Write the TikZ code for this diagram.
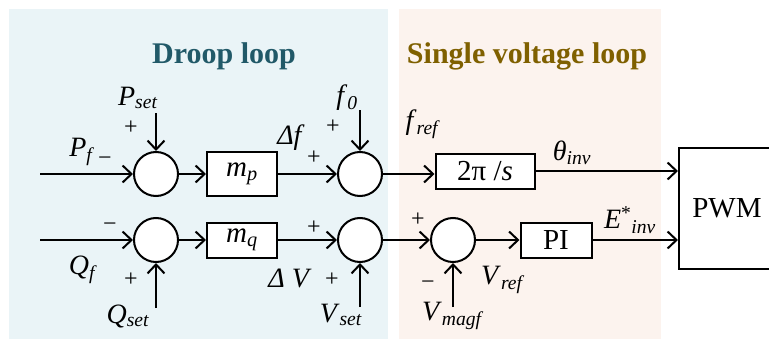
\documentclass[tikz,border=0pt]{standalone}
\usepackage{fontspec}
\setmainfont{Liberation Serif}
\usetikzlibrary{arrows.meta}
\definecolor{droopbg}{RGB}{234,244,247}
\definecolor{voltbg}{RGB}{252,243,238}
\definecolor{droopteal}{RGB}{33,89,104}
\definecolor{voltgold}{RGB}{127,96,0}
\def\rowP{174}
\def\rowQ{240}
\newcommand{\vsub}[2]{\textit{#1}\textsubscript{\textit{#2}}}

\begin{document}
\begin{tikzpicture}[x=1pt,y=-1pt,line width=2pt,
  sumpt/.style={circle,draw,fill=white,minimum size=44pt,inner sep=0pt},
  gain/.style={draw,fill=white,minimum height=35pt,inner sep=0pt,font=\fontsize{29}{34}\selectfont},
  sig/.style={-{Straight Barb[length=9pt,width=17pt]}},
  lbl/.style={font=\fontsize{28}{32}\selectfont,inner sep=0pt},
  sgn/.style={font=\fontsize{24}{28}\selectfont,inner sep=0pt},
  title/.style={font=\fontsize{30}{36}\selectfont\bfseries,anchor=base}]
  \useasboundingbox (0,0) rectangle (769,340);
  % panels
  \fill[droopbg] (9,9) rectangle (388,339);
  \fill[voltbg] (399,9) rectangle (661,339);
  \node[title,text=droopteal] (tdroop) at (224,63) {Droop loop};
  \node[title,text=voltgold] (tvolt) at (527,63) {Single voltage loop};
  % blocks, row P
  \node[sumpt] (sp1) at (156,\rowP) {};
  \node[gain,minimum width=70pt,minimum height=44pt] (mp) at (242,\rowP) {\vsub{m}{p}};
  \node[sumpt] (sp2) at (360,\rowP) {};
  \node[gain,minimum width=99pt] (integ) at (485,171) {2π /\textit{s}};
  \node[gain,minimum width=96pt,minimum height=121pt] (pwm) at (727,208.5) {PWM};
  % blocks, row Q
  \node[sumpt] (sq1) at (156,\rowQ) {};
  \node[gain,minimum width=70pt] (mq) at (242,\rowQ) {\vsub{m}{q}};
  \node[sumpt] (sq2) at (360,\rowQ) {};
  \node[sumpt] (sv) at (453,\rowQ) {};
  \node[gain,minimum width=71pt] (pi) at (556,\rowQ) {PI};
  % free ends
  \coordinate (inP) at (40,\rowP);
  \coordinate (inQ) at (40,\rowQ);
  \coordinate (pset) at (156,113);
  \coordinate (fzero) at (360,110);
  \coordinate (qset) at (156,308);
  \coordinate (vset) at (360,307);
  \coordinate (vmag) at (453,307);
  % signals
  \draw[sig] (inP) -- (sp1);
  \draw[sig] (pset) -- (sp1);
  \draw[sig] (sp1) -- (mp);
  \draw[sig] (mp) -- (sp2);
  \draw[sig] (fzero) -- (sp2);
  \draw[sig] (sp2.east) -- (sp2.east -| integ.west);
  \draw[sig] (integ.east) -- (integ.east -| pwm.west);
  \draw[sig] (inQ) -- (sq1);
  \draw[sig] (qset) -- (sq1);
  \draw[sig] (sq1) -- (mq);
  \draw[sig] (mq) -- (sq2);
  \draw[sig] (vset) -- (sq2);
  \draw[sig] (sq2) -- (sv);
  \draw[sig] (vmag) -- (sv);
  \draw[sig] (sv) -- (pi);
  \draw[sig] (pi.east) -- (pi.east -| pwm.west);
  % labels
  \node[lbl] (lpset) at (138,98) {\vsub{P}{set}};
  \node[sgn] (spset) at (131,128) {+};
  \node[lbl] (lpf) at (82,152) {\vsub{P}{f}};
  \node[sgn] (spf) at (105,161) {−};
  \node[lbl] (ldf) at (291,138) {\textit{Δf}};
  \node[sgn] (sdf) at (314,158) {+};
  \node[lbl] (lfz) at (347,98) {\vsub{f}{0}};
  \node[sgn] (sfz) at (333,127) {+};
  \node[lbl] (lfref) at (423,124) {\vsub{f}{ref}};
  \node[lbl] (lth) at (572,153) {\vsub{θ}{inv}};
  \node[lbl] (le) at (630,220) {\textit{E}\textsuperscript{*}\textsubscript{\textit{inv}}};
  \node[lbl] (lqf) at (83,270) {\vsub{Q}{f}};
  \node[sgn] (sqf) at (110,227) {−};
  \node[sgn] (sqs) at (131,280) {+};
  \node[lbl] (lqset) at (128,316) {\vsub{Q}{set}};
  \node[sgn] (smq) at (314,228) {+};
  \node[lbl] (ldv) at (290,278) {\textit{Δ V}};
  \node[sgn] (svs) at (332,280) {+};
  \node[lbl] (lvset) at (341,315) {\vsub{V}{set}};
  \node[sgn] (ssv) at (418,220) {+};
  \node[sgn] (svm) at (428,285) {−};
  \node[lbl] (lvref) at (503,280) {\vsub{V}{ref}};
  \node[lbl] (lvmag) at (453,316) {\vsub{V}{magf}};
\end{tikzpicture}
\end{document}
